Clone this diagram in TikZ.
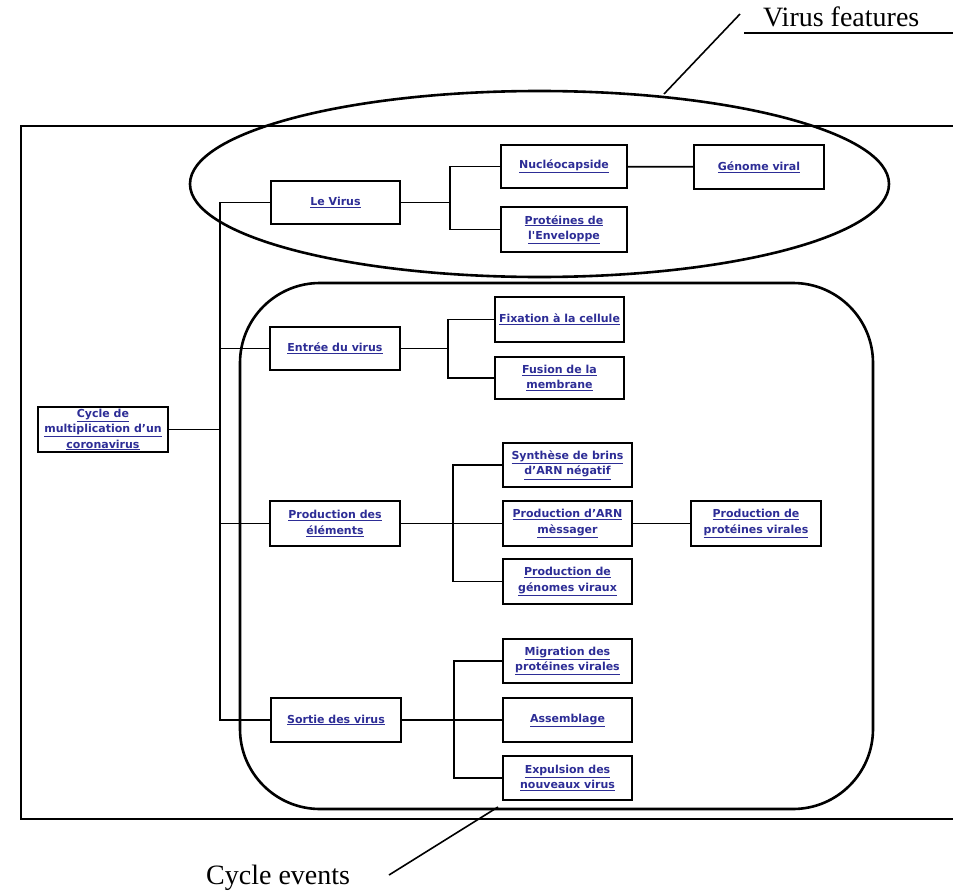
\documentclass[tikz,border=0pt]{standalone}
\usepackage{fontspec}
\setmainfont{Liberation Serif}
\newfontfamily\boxfont{DejaVu Sans}
\usetikzlibrary{shapes.geometric}
\definecolor{linkblue}{RGB}{45,45,150}
\newcommand{\lnk}[1]{\underline{#1}}
\begin{document}
\begin{tikzpicture}[x=1pt,y=-1pt]
\tikzstyle{linkbox} = [rectangle, draw=black, line width=2.2pt, fill=white, minimum width=129pt, minimum height=44pt, inner sep=0pt, align=center, text=linkblue, font=\boxfont\bfseries\fontsize{11}{15.5}\selectfont]
\tikzstyle{branch} = [line width=1.8pt]
\tikzstyle{callout} = [font=\fontsize{28}{30}\selectfont]
\useasboundingbox (0,0) rectangle (953,891);
% frame round the whole chart
\draw[line width=2pt] (953,126) -| (21,819) -- (953,819);
\node (feat) [ellipse, draw, line width=2.6pt, minimum width=699pt, minimum height=186pt, inner sep=0pt] at (539.5,184) {};
\node (events) [rectangle, draw, line width=2.6pt, rounded corners=80pt, minimum width=633pt, minimum height=526pt] at (556.5,546) {};
% boxes
\node (cycle) [linkbox, minimum width=130pt, minimum height=45pt] at (103,429.5) {\lnk{Cycle de}\\\lnk{multiplication d’un}\\\lnk{coronavirus}};
\node (levirus) [linkbox, minimum height=43pt] at (335.5,202.5) {\lnk{Le Virus}};
\node (nucleo) [linkbox, minimum width=126pt, minimum height=43pt] at (564,166.5) {\lnk{Nucléocapside}};
\node (envel) [linkbox, minimum width=126pt, minimum height=45pt] at (564,229.5) {\lnk{Protéines de}\\\lnk{l'Enveloppe}};
\node (genome) [linkbox, minimum width=130pt] at (759,167) {\lnk{Génome viral}};
\node (entree) [linkbox, minimum width=130pt, minimum height=43pt] at (335,348.5) {\lnk{Entrée du virus}};
\node (fixation) [linkbox, minimum height=45pt] at (559.5,319.5) {\lnk{Fixation à la cellule}};
\node (fusion) [linkbox, minimum height=42pt] at (559.5,378) {\lnk{Fusion de la}\\\lnk{membrane}};
\node (prod) [linkbox, minimum width=130pt, minimum height=45pt] at (335,523.5) {\lnk{Production des}\\\lnk{éléments}};
\node (synth) [linkbox] at (567.5,465) {\lnk{Synthèse de brins}\\\lnk{d’ARN négatif}};
\node (arnm) [linkbox, minimum height=45pt] at (567.5,523.5) {\lnk{Production d’ARN}\\\lnk{mèssager}};
\node (genomes) [linkbox, minimum height=45pt] at (567.5,581.5) {\lnk{Production de}\\\lnk{génomes viraux}};
\node (protvir) [linkbox, minimum width=130pt, minimum height=45pt] at (756,523.5) {\lnk{Production de}\\\lnk{protéines virales}};
\node (sortie) [linkbox, minimum width=130pt] at (336,720) {\lnk{Sortie des virus}};
\node (migr) [linkbox] at (567.5,661) {\lnk{Migration des}\\\lnk{protéines virales}};
\node (assem) [linkbox] at (567.5,720) {\lnk{Assemblage}};
\node (expul) [linkbox] at (567.5,778) {\lnk{Expulsion des}\\\lnk{nouveaux virus}};
% tree
\draw[branch] (cycle.east) -- ++(51,0) |- (levirus.west);
\draw[branch] (cycle.east) -- ++(51,0) |- (entree.west);
\draw[branch] (cycle.east) -- ++(51,0) |- (prod.west);
\draw[branch] (cycle.east) -- ++(51,0) |- (sortie.west);
\draw[branch] (levirus.east) -- ++(49,0) |- (nucleo.west);
\draw[branch] (levirus.east) -- ++(49,0) |- (envel.west);
\draw[branch] (nucleo) -- (genome);
\draw[branch] (entree.east) -- ++(47,0) |- (fixation.west);
\draw[branch] (entree.east) -- ++(47,0) |- (fusion.west);
\draw[branch] (prod.east) -- ++(52,0) |- (synth.west);
\draw[branch] (prod.east) -- ++(52,0) |- (arnm.west);
\draw[branch] (prod.east) -- ++(52,0) |- (genomes.west);
\draw[branch] (arnm) -- (protvir);
\draw[branch] (sortie.east) -- ++(52,0) |- (migr.west);
\draw[branch] (sortie.east) -- ++(52,0) |- (assem.west);
\draw[branch] (sortie.east) -- ++(52,0) |- (expul.west);
% callouts
\node (vflabel) [callout, anchor=base west, inner sep=0pt] at (763,27) {Virus features};
\coordinate (vftip) at (740,14);
\coordinate (vfend) at (664,94);
\draw[line width=1.6pt] (744,33) -- (953,33);
\draw[line width=1.6pt] (vftip) -- (vfend);
\node (celabel) [callout, anchor=base west, inner sep=0pt] at (206,884) {Cycle events};
\coordinate (cetip) at (389,875);
\coordinate (ceend) at (498,807);
\draw[line width=1.6pt] (cetip) -- (ceend);
\end{tikzpicture}
\end{document}
